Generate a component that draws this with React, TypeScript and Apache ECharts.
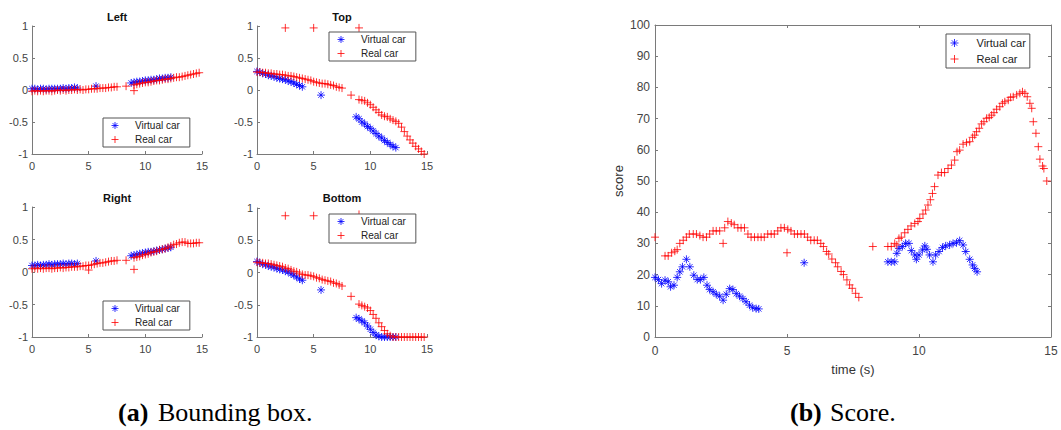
import React, { useEffect, useRef } from "react";
import * as echarts from "echarts";

// ---------- Bounding box data (a) ----------
const bbRealT1 = [0, 0.25, 0.5, 0.75, 1, 1.25, 1.5, 1.75, 2, 2.25, 2.5, 2.75, 3, 3.25, 3.5, 3.75, 4, 4.25, 4.5, 4.75, 5, 5.25, 5.5, 5.75, 6, 6.25, 6.5, 6.75, 7, 7.25, 7.5];
const bbRealT2 = [9, 9.25, 9.5, 9.75, 10, 10.25, 10.5, 10.75, 11, 11.25, 11.5, 11.75, 12, 12.25, 12.5, 12.75, 13, 13.25, 13.5, 13.75, 14, 14.25, 14.5, 14.75];
const bbVirtT1 = [0, 0.25, 0.5, 0.75, 1, 1.25, 1.5, 1.75, 2, 2.25, 2.5, 2.75, 3, 3.25, 3.5, 3.75, 4];
const bbVirtT2 = [8.75, 9, 9.25, 9.5, 9.75, 10, 10.25, 10.5, 10.75, 11, 11.25, 11.5, 11.75, 12, 12.25];

const leftReal1 = [-0.02, -0.01, -0.02, -0.01, -0.02, -0.01, -0.01, -0.02, -0.01, 0, -0.01, 0, -0.01, 0, 0, 0.01, 0, 0.01, 0, 0.01, 0.01, 0.02, 0.02, 0.02, 0.03, 0.03, 0.03, 0.04, 0.04, 0.05, 0.05];
const leftReal2 = [0.08, 0.09, 0.1, 0.11, 0.12, 0.12, 0.13, 0.14, 0.15, 0.15, 0.16, 0.17, 0.17, 0.18, 0.19, 0.2, 0.2, 0.21, 0.22, 0.23, 0.24, 0.25, 0.26, 0.27];
const leftRealOut = [[8.3, 0.06], [9.0, -0.01]];
const leftVirt1 = [0.02, 0.02, 0.01, 0.02, 0.02, 0.01, 0.02, 0.02, 0.02, 0.02, 0.02, 0.03, 0.02, 0.03, 0.03, 0.04, 0.03];
const leftVirt2 = [0.11, 0.12, 0.13, 0.13, 0.14, 0.15, 0.15, 0.16, 0.16, 0.17, 0.18, 0.18, 0.19, 0.19, 0.2];
const leftVirtOut = [[5.65, 0.06]];

const topReal1 = [0.28, 0.28, 0.27, 0.27, 0.26, 0.26, 0.25, 0.25, 0.24, 0.24, 0.23, 0.22, 0.22, 0.21, 0.2, 0.19, 0.18, 0.17, 0.16, 0.15, 0.13, 0.12, 0.11, 0.1, 0.1, 0.09, 0.08, 0.07, 0.05, 0.04, 0.03];
const topReal2 = [-0.15, -0.16, -0.17, -0.2, -0.23, -0.27, -0.31, -0.35, -0.39, -0.41, -0.42, -0.45, -0.47, -0.49, -0.52, -0.58, -0.65, -0.72, -0.78, -0.83, -0.88, -0.92, -0.96, -1.0];
const topRealOut = [[2.5, 0.97], [5.0, 0.97], [9.0, 0.97], [8.3, -0.08]];
const topVirt1 = [0.29, 0.28, 0.26, 0.25, 0.23, 0.22, 0.21, 0.19, 0.18, 0.17, 0.16, 0.14, 0.13, 0.11, 0.09, 0.07, 0.05];
const topVirt2 = [-0.42, -0.45, -0.5, -0.53, -0.57, -0.6, -0.64, -0.68, -0.72, -0.75, -0.79, -0.82, -0.85, -0.88, -0.9];
const topVirtOut = [[5.65, -0.08]];

const rightReal1 = [0.05, 0.06, 0.05, 0.06, 0.05, 0.06, 0.06, 0.05, 0.06, 0.06, 0.07, 0.06, 0.07, 0.07, 0.08, 0.08, 0.08, 0.09, 0.09, 0.1, 0.1, 0.11, 0.12, 0.13, 0.14, 0.14, 0.15, 0.16, 0.17, 0.17, 0.18];
const rightReal2 = [0.22, 0.23, 0.24, 0.26, 0.27, 0.28, 0.3, 0.31, 0.32, 0.34, 0.35, 0.36, 0.38, 0.4, 0.42, 0.43, 0.45, 0.46, 0.46, 0.44, 0.44, 0.44, 0.45, 0.45];
const rightRealOut = [[5.0, 0.03], [8.3, 0.18], [9.0, 0.04]];
const rightVirt1 = [0.1, 0.1, 0.11, 0.1, 0.11, 0.11, 0.12, 0.11, 0.12, 0.12, 0.12, 0.13, 0.12, 0.13, 0.13, 0.12, 0.13];
const rightVirt2 = [0.25, 0.26, 0.27, 0.28, 0.29, 0.3, 0.31, 0.31, 0.32, 0.33, 0.34, 0.35, 0.36, 0.37, 0.38];
const rightVirtOut = [[5.65, 0.17]];

const bottomReal1 = [0.16, 0.15, 0.15, 0.14, 0.14, 0.13, 0.12, 0.11, 0.1, 0.09, 0.07, 0.06, 0.04, 0.02, 0.01, -0.01, -0.03, -0.04, -0.04, -0.05, -0.06, -0.08, -0.09, -0.11, -0.12, -0.13, -0.14, -0.16, -0.17, -0.19, -0.21];
const bottomReal2 = [-0.49, -0.51, -0.53, -0.55, -0.59, -0.65, -0.71, -0.78, -0.84, -0.9, -0.95, -0.98, -1, -1, -1, -1, -1, -1, -1, -1, -1, -1, -1, -1];
const bottomRealOut = [[2.5, 0.88], [5.0, 0.88], [9.0, 0.9], [8.3, -0.37]];
const bottomVirt1 = [0.17, 0.15, 0.13, 0.12, 0.1, 0.09, 0.08, 0.06, 0.05, 0.04, 0.02, 0.01, -0.02, -0.04, -0.07, -0.1, -0.12];
const bottomVirt2 = [-0.7, -0.72, -0.75, -0.78, -0.83, -0.88, -0.93, -0.97, -0.99, -1, -1, -1, -1, -1, -1];
const bottomVirtOut = [[5.65, -0.27]];

// ---------- Score data (b) ----------
const scoreVirtT1 = [0, 0.13, 0.25, 0.38, 0.5, 0.59, 0.72, 0.84, 0.94, 1.04, 1.19, 1.32, 1.47, 1.6, 1.72, 1.85, 1.97, 2.07, 2.2, 2.32, 2.45, 2.58, 2.7, 2.83, 2.95, 3.08, 3.2, 3.33, 3.45, 3.58, 3.7, 3.83, 3.93];
const scoreVirt1 = [19.1, 18.4, 17.1, 18.2, 17.7, 16.1, 16.6, 19.1, 20.9, 22.5, 24.9, 22.5, 19.8, 18.4, 18.4, 19.1, 16.6, 15.2, 14.5, 13.7, 13.1, 11.8, 13.7, 15.5, 15.2, 13.9, 13.1, 12.3, 11.3, 10.2, 9.4, 9.1, 9.0];
const scoreVirtOut = [[5.65, 23.8]];
const scoreVirtT2 = [8.82, 8.95, 9.08, 9.16, 9.24, 9.37, 9.49, 9.62, 9.71, 9.84, 9.9, 10.0, 10.13, 10.22, 10.3, 10.4, 10.53, 10.63, 10.76, 10.89, 11.01, 11.16, 11.29, 11.42, 11.54, 11.67, 11.77, 11.92, 12.03, 12.11, 12.2];
const scoreVirt2 = [24.1, 24.1, 24.1, 26.8, 28.4, 29, 30, 30, 27.7, 26.3, 24.9, 26.3, 27.9, 29.2, 28.1, 26.3, 24.1, 26.3, 27.4, 28.7, 29.2, 29.5, 30, 30.2, 30.9, 29.5, 27.4, 24.9, 23.1, 22, 20.9];

const scoreRealT1 = [0, 0.38, 0.5, 0.63, 0.75, 0.84, 0.94, 1.07, 1.19, 1.3, 1.45, 1.57, 1.7, 1.82, 1.95, 2.07, 2.2, 2.32, 2.45, 2.58, 2.64, 2.76, 2.89, 3.0, 3.14, 3.26, 3.39, 3.52, 3.64, 3.77, 3.9, 4.02, 4.14, 4.27, 4.4, 4.52, 4.65, 4.77, 4.9, 5.0, 5.03, 5.15, 5.28, 5.4, 5.53, 5.66, 5.78, 5.9, 6.03, 6.15, 6.28, 6.38, 6.5, 6.58, 6.7, 6.84, 6.92, 7.05, 7.14, 7.27, 7.37, 7.47, 7.6, 7.72];
const scoreReal1 = [32, 26, 26, 27, 27.5, 28, 30, 31, 32, 33, 33, 33, 32.5, 32, 32, 33, 34, 34, 34, 30, 35, 37, 36.5, 36, 35, 35, 35, 33, 32, 32, 32, 32, 32, 33, 33, 33, 34, 35, 35, 27, 34.5, 34, 33, 33, 33, 33, 32, 31, 31, 31, 30, 29, 27.4, 26.6, 25, 23.8, 22.5, 21, 20, 18.3, 16.7, 15.6, 14, 12.7];
const scoreRealT2 = [8.25, 8.82, 8.95, 9.08, 9.16, 9.24, 9.33, 9.46, 9.58, 9.7, 9.84, 9.96, 10.03, 10.15, 10.25, 10.34, 10.43, 10.51, 10.59, 10.72, 10.85, 10.97, 11.1, 11.23, 11.35, 11.44, 11.54, 11.67, 11.8, 11.92, 12.03, 12.11, 12.18, 12.28, 12.37, 12.46, 12.56, 12.66, 12.75, 12.84, 12.94, 13.06, 13.16, 13.25, 13.38, 13.47, 13.57, 13.7, 13.82, 13.92, 14.01, 14.1, 14.2, 14.27, 14.33, 14.43, 14.52, 14.58, 14.68, 14.73, 14.84];
const scoreReal2 = [29, 29, 29, 30, 29.5, 31.6, 32, 33.4, 34.5, 35.6, 36.4, 37, 38, 39.4, 40.7, 42.3, 44, 46, 48.2, 51.9, 52.7, 52.7, 54, 55.1, 56.7, 59.4, 59.9, 61.8, 62.3, 62.6, 64, 64.7, 65.8, 66.9, 68.3, 69, 70.1, 70.4, 71.1, 71.9, 73, 73.8, 74.9, 75.4, 75.9, 76.8, 77, 77.6, 78.1, 78.6, 78.1, 77, 74.9, 73.3, 69, 65.3, 61, 57, 54.8, 54, 50];

const subTitles = ["Left", "Top", "Right", "Bottom"];
const seriesNames = ["Virtual car", "Real car"];

const PLUS = "path://M5,0L5,10M0,5L10,5";
const STAR = "path://M5,0L5,10M0,5L10,5M1.6,1.6L8.4,8.4M8.4,1.6L1.6,8.4";
const RED = "#ff0000";
const BLUE = "#0000ff";
const SANS = "Liberation Sans";
const SERIF = "Liberation Serif";

const zip = (t: number[], v: number[]) => t.map((x, i) => [x, v[i]]);

export default function App() {
  const ref = useRef<HTMLDivElement>(null);
  useEffect(() => {
    if (!ref.current) return;
    const chart = echarts.init(ref.current, undefined, { renderer: "svg" });

    const grids = [
      { left: 32, top: 26, width: 170, height: 128 },
      { left: 257, top: 26, width: 170, height: 128 },
      { left: 32, top: 207, width: 170, height: 130 },
      { left: 257, top: 208, width: 170, height: 129 },
      { left: 655, top: 25, width: 396, height: 312 },
    ];

    const axisLine = { show: true, onZero: false, lineStyle: { color: "#7a7a7a", width: 1 } };
    const axisTick = { show: true, inside: true, length: 3, lineStyle: { color: "#7a7a7a" } };

    const xAxes: any[] = [];
    const yAxes: any[] = [];
    for (let i = 0; i < 4; i++) {
      xAxes.push({
        type: "value", gridIndex: i, min: 0, max: 15, interval: 5,
        axisLine, axisTick,
        axisLabel: { color: "#444", fontSize: 11, fontFamily: SANS, margin: 6 },
        splitLine: { show: false },
      });
      yAxes.push({
        type: "value", gridIndex: i, min: -1, max: 1, interval: 0.5,
        axisLine, axisTick,
        axisLabel: { color: "#444", fontSize: 11, fontFamily: SANS, margin: 4 },
        splitLine: { show: false },
      });
    }
    // score axes
    xAxes.push({
      type: "value", gridIndex: 4, min: 0, max: 15, interval: 5,
      axisLine, axisTick,
      axisLabel: { color: "#444", fontSize: 12, fontFamily: SANS, margin: 8 },
      splitLine: { show: false },
    });
    xAxes.push({
      type: "value", gridIndex: 4, min: 0, max: 15, interval: 5, position: "top",
      axisLine, axisTick, axisLabel: { show: false }, splitLine: { show: false },
    });
    yAxes.push({
      type: "value", gridIndex: 4, min: 0, max: 100, interval: 10,
      axisLine, axisTick,
      axisLabel: { color: "#444", fontSize: 12, fontFamily: SANS, margin: 5 },
      splitLine: { show: false },
    });
    yAxes.push({
      type: "value", gridIndex: 4, min: 0, max: 100, interval: 10, position: "right",
      axisLine, axisTick, axisLabel: { show: false }, splitLine: { show: false },
    });

    const mk = (name: string, idx: number, data: any[], size: number) => ({
      type: "scatter",
      name,
      xAxisIndex: idx,
      yAxisIndex: idx,
      data,
      symbol: name === "Virtual car" ? STAR : PLUS,
      symbolSize: size,
      silent: true,
      itemStyle: {
        color: name === "Virtual car" ? BLUE : RED,
        borderColor: name === "Virtual car" ? BLUE : RED,
        borderWidth: 1,
        opacity: 0.8,
      },
    });

    const bbSets = [
      [leftVirt1, leftVirt2, leftVirtOut, leftReal1, leftReal2, leftRealOut],
      [topVirt1, topVirt2, topVirtOut, topReal1, topReal2, topRealOut],
      [rightVirt1, rightVirt2, rightVirtOut, rightReal1, rightReal2, rightRealOut],
      [bottomVirt1, bottomVirt2, bottomVirtOut, bottomReal1, bottomReal2, bottomRealOut],
    ];

    const series: any[] = [];
    bbSets.forEach((s: any[], i) => {
      const virt = [...zip(bbVirtT1, s[0]), ...s[2], ...zip(bbVirtT2, s[1])];
      const real = [...zip(bbRealT1, s[3]), ...s[5], ...zip(bbRealT2, s[4])];
      series.push(mk(seriesNames[0], i, virt, 8));
      series.push(mk(seriesNames[1], i, real, 8));
    });
    series.push(mk(seriesNames[0], 4, [...zip(scoreVirtT1, scoreVirt1), ...scoreVirtOut, ...zip(scoreVirtT2, scoreVirt2)], 8));
    series.push(mk(seriesNames[1], 4, [...zip(scoreRealT1, scoreReal1), ...zip(scoreRealT2, scoreReal2)], 8));

    const legendBase = (left: number, top: number, small: boolean) => ({
      orient: "vertical",
      left,
      top,
      data: [
        { name: "Virtual car", icon: STAR },
        { name: "Real car", icon: PLUS },
      ],
      selectedMode: false,
      itemWidth: small ? 30 : 34,
      itemHeight: small ? 7 : 8,
      itemGap: small ? 3 : 4,
      padding: small ? [2, 10, 2, 8] : [3, 4, 3, 4],
      borderColor: "#555",
      borderWidth: 1,
      borderRadius: 0,
      backgroundColor: "#fff",
      itemStyle: { borderWidth: 1 },
      textStyle: { fontFamily: SANS, fontSize: small ? 10 : 11, lineHeight: small ? 11 : 12, color: "#222" },
    });

    const legends = [
      legendBase(103, 118, true),
      legendBase(329, 32, true),
      legendBase(103, 301, true),
      legendBase(329, 214, true),
      legendBase(946, 34, false),
    ];

    const titlePos = [[117, 17], [342, 17], [117, 198], [342, 198]];
    const graphics: any[] = titlePos.map((p, i) => ({
      type: "text",
      x: p[0],
      y: p[1],
      silent: true,
      style: {
        text: subTitles[i], x: 0, y: 0,
        align: "center", verticalAlign: "middle", textAlign: "center", textVerticalAlign: "middle",
        fontFamily: SANS, fontSize: 11, fontWeight: "bold", fill: "#111",
      },
    }));
    graphics.push({
      type: "text", x: 618, y: 181, rotation: Math.PI / 2, silent: true,
      style: {
        text: "score", x: 0, y: 0,
        align: "center", verticalAlign: "middle", textAlign: "center", textVerticalAlign: "middle",
        fontFamily: SANS, fontSize: 13, fill: "#333",
      },
    });
    graphics.push({
      type: "text", x: 853, y: 369, silent: true,
      style: {
        text: "time (s)", x: 0, y: 0,
        align: "center", verticalAlign: "middle", textAlign: "center", textVerticalAlign: "middle",
        fontFamily: SANS, fontSize: 13, fill: "#333",
      },
    });
    const cap = (x: number, text: string, bold: boolean) => ({
      type: "text", x, y: 412, silent: true,
      style: {
        text, x: 0, y: 0,
        align: "left", verticalAlign: "middle", textAlign: "left", textVerticalAlign: "middle",
        fontFamily: SERIF, fontSize: 26, fontWeight: bold ? "bold" : "normal", fill: "#000",
      },
    });
    graphics.push(cap(118, "(a)", true));
    graphics.push(cap(158, "Bounding box.", false));
    graphics.push(cap(790, "(b)", true));
    graphics.push(cap(830, "Score.", false));

    chart.setOption({
      animation: false,
      backgroundColor: "#fff",
      grid: grids,
      xAxis: xAxes,
      yAxis: yAxes,
      legend: legends,
      series,
      graphic: graphics,
    });
    return () => chart.dispose();
  }, []);

  return (
    <div
      ref={ref}
      style={{ position: "fixed", left: 0, top: 0, width: 1061, height: 430, background: "#fff" }}
    />
  );
}
